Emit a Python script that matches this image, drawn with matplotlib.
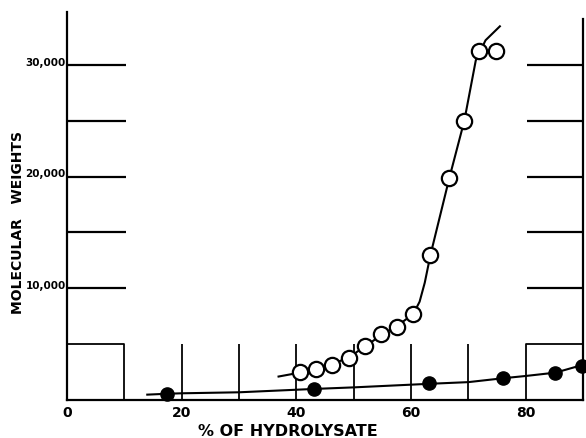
import matplotlib.pyplot as plt
import numpy as np

# --- data ---
open_x = [40.6, 43.4, 46.2, 49.1, 52.0, 54.8, 57.5, 60.4, 63.4, 66.7, 69.3, 71.9, 74.8]
open_y = [2480, 2780, 3160, 3760, 4810, 5910, 6510, 7700, 12980, 19870, 24950, 31220, 31270]

# hand drawn curve through the open circles
open_curve_x = [36.9, 40.6, 43.4, 46.2, 49.1, 52.0, 54.8, 57.5, 60.4, 61.5, 62.4, 63.4, 66.7, 69.3, 71.3, 73.0, 75.5]
open_curve_y = [2100, 2450, 2800, 3200, 3800, 4800, 5800, 6600, 7700, 8800, 10500, 13000, 19900, 25000, 30400, 32200, 33450]

filled_x = [17.5, 43.1, 63.2, 76.1, 85.2, 89.8]
filled_y = [540, 990, 1490, 1940, 2440, 3070]

filled_curve_x = [14.0, 17.5, 20, 30, 43.1, 50, 63.2, 70, 76.1, 80, 85.2, 90]
filled_curve_y = [480, 560, 600, 690, 990, 1130, 1450, 1600, 1950, 2150, 2450, 3150]

xtick_vals = [0, 20, 40, 60, 80]
ytick_vals = [10000, 20000, 30000]
ytick_text = ['10,000', '20,000', '30,000']
grid_y = [10000, 15000, 20000, 25000, 30000]
mid_ticks = [20, 30, 40, 50, 60, 70]
box_top = 5000

fig = plt.figure(figsize=(5.86, 4.39), dpi=100)
ax = fig.add_axes([67 / 586, 38 / 439, 516 / 586, 391 / 439])
ax.set_xlim(0, 90)
ax.set_ylim(0, 35000)
ax.axis('off')

lw = 1.6
k = 'black'

# frame pieces
ax.plot([0, 90], [0, 0], color=k, lw=lw, clip_on=False)
ax.plot([0, 0], [0, 34700], color=k, lw=lw, clip_on=False)
ax.plot([90, 90], [0, 34100], color=k, lw=lw, clip_on=False)
# boxes at both ends
ax.plot([0, 10, 10], [box_top, box_top, 0], color=k, lw=lw * 0.8, clip_on=False)
ax.plot([80, 80, 90], [0, box_top, box_top], color=k, lw=lw * 0.8, clip_on=False)
# side rulings
ax.hlines(grid_y, 0, 10.3, color=k, lw=lw)
ax.hlines(grid_y, 80.3, 90, color=k, lw=lw)
# short vertical ticks in the middle
ax.vlines(mid_ticks, 0, box_top, color=k, lw=lw * 0.8)

# curves
ax.plot(open_curve_x, open_curve_y, color=k, lw=1.5, zorder=3)
ax.plot(filled_curve_x, filled_curve_y, color=k, lw=1.5, zorder=3, clip_on=False)

ax.plot(open_x, open_y, 'o', ms=11, mfc='white', mec=k, mew=1.6, zorder=4)
ax.plot(filled_x, filled_y, 'o', ms=9.5, mfc=k, mec=k, zorder=4, clip_on=False)

# labels
for v in xtick_vals:
    ax.text(v, -1450, str(v), ha='center', va='baseline', fontsize=10, fontweight='bold')
for v, t in zip(ytick_vals, ytick_text):
    ax.text(-0.2, v + 300, t, ha='right', va='center', fontsize=7.5, fontweight='bold')

ax.text(38.5, -3120, '% OF HYDROLYSATE', ha='center', va='baseline', fontsize=11.5, fontweight='bold')
ax.text(-8.5, 16000, 'MOLECULAR   WEIGHTS', ha='center', va='center', rotation=90,
        fontsize=10, fontweight='bold')

fig.savefig('out.png', dpi=100)
